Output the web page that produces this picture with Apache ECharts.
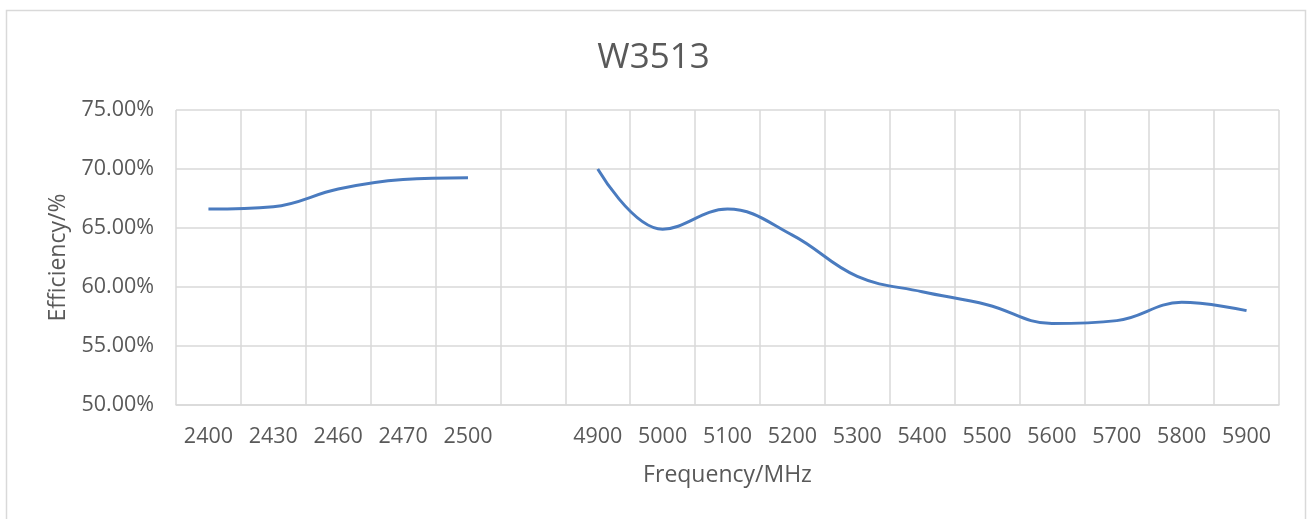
<!DOCTYPE html>
<html>
<head>
<meta charset="utf-8">
<style>
  html, body { margin: 0; padding: 0; background: #fff; }
  #chart { width: 1307px; height: 519px; }
</style>
</head>
<body>
<div id="chart"></div>
<script src="https://cdn.jsdelivr.net/npm/echarts@6/dist/echarts.min.js"></script>
<script>
// categories (blank one leaves the gap between the two bands)
var frequencies = ['2400', '2430', '2460', '2470', '2500', '', '4900', '5000', '5100', '5200',
                   '5300', '5400', '5500', '5600', '5700', '5800', '5900'];
// efficiency in %, '-' = no data
var efficiency = [66.6, 66.8, 68.3, 69.1, 69.25, '-', 70.0, 64.9, 66.6, 64.4,
                  60.9, 59.6, 58.5, 56.9, 57.15, 58.7, 58.0];
var yTicks = { min: 50, max: 75, step: 5 };

var textColor = '#595959';
var gridColor = '#d9d9d9';
var font = '"Open Sans", "Noto Sans", sans-serif';

var myChart = echarts.init(document.getElementById('chart'));
var option = {
    animation: false,
    backgroundColor: '#fff',
    graphic: [{
        type: 'rect',
        shape: { x: 6.5, y: 10.5, width: 1299, height: 520 },
        style: { fill: 'none', stroke: gridColor, lineWidth: 1.5 },
        silent: true
    }],
    title: {
        text: 'W3513',
        left: 'center',
        top: 36,
        textStyle: { color: textColor, fontSize: 35, fontWeight: 'normal', fontFamily: font }
    },
    grid: { left: 176, right: 28, top: 110, bottom: 114 },
    xAxis: {
        type: 'category',
        data: frequencies,
        boundaryGap: true,
        name: 'Frequency/MHz',
        nameLocation: 'middle',
        nameGap: 59,
        nameTextStyle: { color: textColor, fontSize: 23, fontFamily: font },
        axisLine: { lineStyle: { color: gridColor, width: 1.5 } },
        axisTick: { show: false },
        axisLabel: { interval: 0, color: textColor, fontSize: 21.5, margin: 21, fontFamily: font },
        splitLine: { show: true, interval: 0, lineStyle: { color: gridColor, width: 1.5 } }
    },
    yAxis: {
        type: 'value',
        min: yTicks.min,
        max: yTicks.max,
        interval: yTicks.step,
        name: 'Efficiency/%',
        nameLocation: 'middle',
        nameGap: 106,
        nameTextStyle: { color: textColor, fontSize: 23, fontFamily: font },
        axisLine: { show: false },
        axisTick: { show: false },
        axisLabel: {
            color: textColor, fontSize: 21.5, margin: 22, fontFamily: font,
            formatter: function (v) { return v.toFixed(2) + '%'; }
        },
        splitLine: { lineStyle: { color: gridColor, width: 1.5 } }
    },
    series: [{
        type: 'line',
        data: efficiency,
        smooth: 0.4,
        connectNulls: false,
        showSymbol: false,
        lineStyle: { color: '#4a7bbf', width: 3 },
        itemStyle: { color: '#4a7bbf' }
    }]
};
option && myChart.setOption(option);
</script>
</body>
</html>
